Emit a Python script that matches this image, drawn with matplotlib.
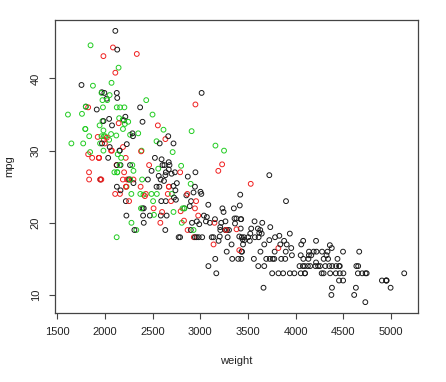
import matplotlib
matplotlib.use("Agg")
import matplotlib.pyplot as plt

# Auto data: weight, mpg and origin (1 = black, 2 = red, 3 = green)
weight = [
    3504, 3693, 3436, 3433, 3449, 4341, 4354, 4312, 4425, 3850, 3563, 3609, 3761, 3086, 2372,
    2833, 2774, 2587, 2130, 1835, 2672, 2430, 2375, 2234, 2648, 4615, 4376, 4382, 4732,
    2130, 2264, 2228, 2634, 3439, 3329, 3302, 3288, 4209, 4464, 4154, 4096, 4955, 4746, 5140,
    2962, 2408, 3282, 3139, 2220, 2123, 2074, 2065, 1773, 1613, 1834, 1955,
    2278, 2126, 2254, 2408, 2226, 4274, 4385, 4135, 4129, 3672, 4633, 4502, 4456, 4422, 2330,
    3892, 4098, 4294, 4077, 2933, 2511, 2979, 2189, 2395, 2288, 2506, 2164, 2100,
    4100, 3672, 3988, 4042, 3777, 4952, 4464, 4363, 4237, 4735, 4951, 3821, 3121, 3278, 2945,
    3021, 2904, 1950, 4997, 4906, 4654, 4499, 2789, 2279, 2401, 2379, 2124, 2310, 2472, 2265,
    4082, 4278, 1867, 2158, 2582, 2868, 3399, 2660, 2807, 3664,
    3102, 2901, 3336, 1950, 2451, 1836, 2542, 3781, 3632, 3613, 4141, 4699, 4457, 4638, 4257,
    2219, 1963, 2300, 1649, 2003, 2125, 2108, 2246, 2489, 2391, 2000,
    3264, 3459, 3432, 3158, 4668, 4440, 4498, 4657, 3907, 3897, 3730, 3785, 3039, 3221, 3169,
    2171, 2639, 2914, 2592, 2702, 2223, 2545, 2984, 1937, 3211, 2694, 2957, 2945, 2671, 1795,
    2464, 2220, 2572, 2255, 2202, 4215, 4190, 3962, 4215, 3233, 3353, 3012, 3085, 2035, 2164,
    1937, 1795, 3651, 3574, 3645, 3193, 1825, 1990, 2155, 2565, 3150, 3940, 3270, 2930, 3820,
    4380, 4055, 3870, 3755,
    2045, 2155, 1825, 2300, 1945, 3880, 4060, 4140, 4295, 3520, 3425, 3630, 3525, 4220, 4165,
    4325, 4335, 1940, 2740, 2265, 2755, 2051, 2075, 1985, 2190, 2815, 2600, 2720,
    1985, 1800, 1985, 2070, 1800, 3365, 3735, 3570, 3535, 3155, 2965, 2720, 3430, 3210, 3380,
    3070, 3620, 3410, 3425, 3445, 3205, 4080, 2155, 2560, 2300, 2230, 2515, 2745, 2855, 2405,
    2830, 3140, 2795, 3410, 1990, 2135,
    3245, 2990, 2890, 3265, 3360, 3840, 3725, 3955, 3830, 4360, 4054, 3605, 3940, 1925, 1975,
    1915, 2670, 3530, 3900, 3190, 3420, 2200, 2150, 2020, 2130, 2670, 2595, 2700, 2556,
    2144, 1968, 2120, 2019, 2678, 2870, 3003, 3381, 2188, 2711, 2542, 2434, 2265, 2110, 2800,
    2110, 2085, 2335, 2950, 3250, 1850, 2145, 1845, 2910, 2420, 2500, 2290,
    2490, 2635, 2620, 2725, 2385, 1755, 1875, 1760, 2065, 1975, 2050, 1985, 2215, 2045, 2380,
    2190, 2210, 2350, 2615, 2635, 3230, 3160, 2900, 2930, 3415, 3725, 3060, 3465,
    2605, 2640, 2395, 2575, 2525, 2735, 2865, 1980, 2025, 1970, 2125, 2125, 2160, 2205, 2245,
    1965, 1965, 1995, 2945, 3015, 2585, 2835, 2665, 2370, 2950, 2790, 2130, 2295, 2625, 2720,
]

mpg = [
    18, 15, 18, 16, 17, 15, 14, 14, 14, 15, 15, 14, 15, 14, 24,
    22, 18, 21, 27, 26, 25, 24, 25, 26, 21, 10, 10, 11, 9,
    27, 28, 25, 19, 16, 17, 19, 18, 14, 14, 14, 14, 12, 13, 13,
    18, 22, 19, 18, 23, 28, 30, 30, 31, 35, 27, 26,
    24, 25, 23, 20, 21, 13, 14, 15, 14, 17, 11, 13, 12, 13, 19,
    15, 13, 13, 14, 18, 22, 21, 26, 22, 28, 23, 28, 27,
    13, 14, 13, 14, 15, 12, 13, 13, 14, 13, 12, 13, 18, 16, 18,
    18, 23, 26, 11, 12, 13, 12, 18, 20, 21, 22, 18, 19, 21, 26,
    15, 16, 29, 24, 20, 19, 15, 24, 20, 11,
    20, 19, 15, 31, 26, 32, 25, 16, 16, 18, 16, 13, 14, 14, 14,
    29, 26, 26, 31, 32, 28, 24, 26, 24, 26, 31,
    19, 18, 15, 15, 16, 15, 16, 14, 17, 16, 15, 18, 21, 20, 13,
    29, 23, 20, 23, 24, 25, 24, 18, 29, 19, 23, 23, 22, 25, 33,
    28, 25, 25, 26, 27, 17.5, 16, 15.5, 14.5, 22, 22, 24, 22.5, 29, 24.5,
    29, 33, 20, 18, 18.5, 17.5, 29.5, 32, 28, 26.5, 20, 13, 19, 19, 16.5,
    16.5, 13, 13, 13,
    31.5, 30, 36, 25.5, 33.5, 17.5, 17, 15.5, 15, 17.5, 20.5, 19, 18.5, 16, 15.5,
    15.5, 16, 29, 24.5, 26, 25.5, 30.5, 33.5, 30, 30.5, 22, 21.5, 21.5,
    43.1, 36.1, 32.8, 39.4, 36.1, 19.9, 19.4, 20.2, 19.2, 20.5, 20.2, 25.1, 20.5, 19.4, 20.6,
    20.8, 18.6, 18.1, 19.2, 17.7, 18.1, 17.5, 30, 27.5, 27.2, 30.9, 21.1, 23.2, 23.8, 23.9,
    20.3, 17, 21.6, 16.2, 31.5, 29.5,
    21.5, 19.8, 22.3, 20.2, 20.6, 17, 17.6, 16.5, 18.2, 16.9, 15.5, 19.2, 18.5, 31.9, 34.1,
    35.7, 27.4, 25.4, 23, 27.2, 23.9, 34.2, 34.5, 31.8, 37.3, 28.4, 28.8, 26.8, 33.5,
    41.5, 38.1, 32.1, 37.2, 28, 26.4, 24.3, 19.1, 34.3, 29.8, 31.3, 37, 32.2, 46.6, 27.9,
    40.8, 44.3, 43.4, 36.4, 30, 44.6, 33.8, 29.8, 32.7, 23.7, 35, 32.4,
    27.2, 26.6, 25.8, 23.5, 30, 39.1, 39, 35.1, 32.3, 37, 37.7, 34.1, 34.7, 34.4, 29.9,
    33, 33.7, 32.4, 32.9, 31.6, 28.1, 30.7, 25.4, 24.2, 22.4, 26.6, 20.2, 17.6,
    28, 27, 34, 31, 29, 27, 24, 36, 37, 31, 38, 36, 36, 36, 34,
    38, 32, 38, 25, 38, 26, 22, 32, 36, 27, 27, 44, 32, 28, 31,
]

origin = [
    1, 1, 1, 1, 1, 1, 1, 1, 1, 1, 1, 1, 1, 1, 3,
    1, 1, 1, 3, 2, 2, 2, 2, 2, 1, 1, 1, 1, 1,
    3, 1, 3, 1, 1, 1, 1, 1, 1, 1, 1, 1, 1, 1, 1,
    1, 1, 1, 1, 1, 2, 2, 2, 3, 3, 2, 1,
    3, 1, 2, 1, 1, 1, 1, 1, 1, 1, 1, 1, 1, 1, 3,
    1, 1, 1, 1, 2, 2, 2, 2, 1, 3, 3, 1, 3,
    1, 1, 1, 1, 1, 1, 1, 1, 1, 1, 1, 1, 1, 1, 1,
    1, 1, 2, 1, 1, 1, 1, 1, 3, 1, 3, 3, 1, 1, 2,
    1, 1, 2, 2, 2, 2, 1, 2, 3, 1,
    1, 1, 1, 3, 1, 3, 1, 1, 1, 1, 1, 1, 1, 1, 1,
    2, 2, 2, 3, 3, 1, 2, 2, 3, 3, 2,
    1, 1, 1, 1, 1, 1, 1, 1, 1, 1, 1, 1, 1, 1, 1,
    3, 1, 1, 1, 3, 2, 3, 1, 2, 1, 2, 2, 2, 2, 3,
    2, 2, 1, 1, 2, 1, 1, 1, 1, 1, 1, 1, 1, 1, 1,
    2, 3, 1, 1, 1, 1, 2, 3, 3, 1, 2, 1, 2, 3, 2,
    1, 1, 1, 1,
    3, 1, 2, 1, 3, 1, 1, 1, 1, 1, 1, 1, 1, 1, 1,
    1, 1, 2, 1, 3, 1, 1, 1, 3, 2, 3, 2, 3,
    2, 1, 3, 3, 3, 1, 1, 1, 1, 1, 1, 1, 1, 1, 1,
    1, 1, 1, 1, 1, 1, 1, 1, 3, 3, 1, 3, 1, 1, 3,
    2, 2, 2, 2, 2, 3,
    1, 1, 1, 1, 1, 1, 1, 1, 1, 1, 1, 1, 1, 2, 3,
    1, 1, 2, 1, 2, 1, 1, 3, 2, 1, 1, 1, 1,
    2, 3, 1, 3, 1, 1, 1, 1, 2, 3, 3, 3, 3, 3, 1,
    3, 2, 2, 2, 2, 3, 3, 2, 3, 3, 2, 3,
    1, 1, 1, 1, 1, 3, 1, 3, 3, 3, 3, 3, 1, 1, 1,
    2, 3, 3, 3, 3, 2, 2, 3, 3, 1, 1, 1, 1,
    1, 1, 1, 1, 1, 1, 1, 2, 3, 3, 1, 1, 3, 3, 3,
    3, 3, 3, 1, 1, 1, 1, 3, 1, 1, 1, 2, 1, 1, 1,
]

palette = {1: "#1a1a1a", 2: "#f02020", 3: "#22cc22"}
x_ticks = [1500, 2000, 2500, 3000, 3500, 4000, 4500, 5000]
y_ticks = [10, 20, 30, 40]

plt.rcParams["font.family"] = ["Liberation Sans", "DejaVu Sans"]

fig = plt.figure(figsize=(4.46, 3.82), dpi=100)
ax = fig.add_axes([0.1222, 0.1806, 0.8143, 0.767])

cols = [palette[o] for o in origin]
ax.scatter(weight, mpg, s=12, facecolors="none", edgecolors=cols, linewidths=0.7)

# R style 4% padding
xr = max(weight) - min(weight)
yr = max(mpg) - min(mpg)
ax.set_xlim(min(weight) - 0.04 * xr, max(weight) + 0.04 * xr)
ax.set_ylim(min(mpg) - 0.04 * yr, max(mpg) + 0.04 * yr)

ax.set_xticks(x_ticks)
ax.set_yticks(y_ticks)
ax.set_yticklabels([str(v) for v in y_ticks], rotation=90, va="center")
ax.tick_params(axis="both", length=4.3, width=0.8, color="#444444",
               labelsize=8, labelcolor="#222222", pad=5.5)
for sp in ax.spines.values():
    sp.set_color("#444444")
    sp.set_linewidth(0.9)

ax.set_xlabel("weight", fontsize=8, color="#222222", labelpad=14)
ax.set_ylabel("mpg", fontsize=8, color="#222222", labelpad=12)

fig.savefig("out.png", dpi=100)
